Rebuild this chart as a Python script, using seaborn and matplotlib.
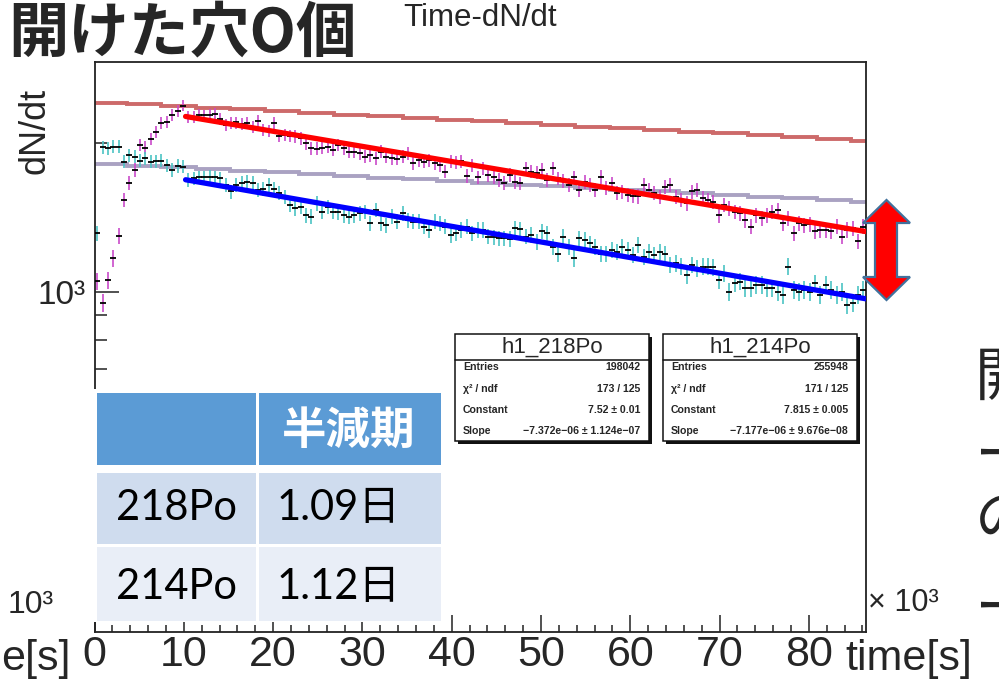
import numpy as np
import pandas as pd
import seaborn as sns
import matplotlib
matplotlib.use("Agg")
import matplotlib.pyplot as plt
from matplotlib import font_manager
from matplotlib.patches import Rectangle, Polygon
from matplotlib.lines import Line2D
from matplotlib.ticker import FixedLocator, NullFormatter

# ---------------- data ----------------
bin_width = 600  # seconds per bin
po218 = [1050, 950, 1057, 1170, 1298, 1534, 1660, 1764, 1981, 1958, 2037, 2105, 2195, 2205, 2280, 2320, 2380,
         2260, 2255, 2279, 2275, 2282, 2289, 2233, 2175, 2193, 2200, 2188, 2195, 2158, 2219, 2125, 2118, 2199,
         2066, 2076, 2066, 2062, 2044, 1997, 1951, 1948, 1955, 1966, 1936, 1981, 1951, 1921, 1918, 1906, 1876,
         1891, 1863, 1921, 1876, 1863, 1860, 1876, 1906, 1820, 1848, 1833, 1848, 1820, 1805, 1750, 1833, 1830,
         1836, 1715, 1805, 1704,
         1778, 1724, 1710, 1684, 1663, 1724, 1671, 1658, 1778, 1750,
         1742, 1764, 1684, 1778, 1697, 1679, 1645, 1705, 1607, 1671,
         1645, 1607, 1710, 1620, 1658, 1583, 1596, 1571, 1563, 1560,
         1645, 1607, 1583, 1558, 1632, 1645, 1558, 1534, 1510, 1596,
         1607, 1546, 1534, 1522, 1430, 1499, 1476, 1452, 1441, 1398,
         1356, 1430, 1409, 1430, 1452, 1464, 1377, 1409, 1315, 1377,
         1366, 1370, 1325, 1335, 1332, 1325, 1356, 1294, 1335, 1346,
         1265, 1356]
po214 = [1315, 1960, 1951, 1966, 1966, 1833, 1891, 1876, 1842, 1863, 1833, 1838, 1842, 1805, 1764, 1797, 1792,
         1684, 1697, 1705, 1705, 1710, 1705, 1697, 1645, 1596, 1645,
         1663, 1671, 1663, 1607, 1612, 1645, 1612, 1583, 1558, 1499,
         1476, 1487, 1430, 1419, 1510, 1452, 1487, 1452, 1450, 1430,
         1419, 1430, 1441, 1452, 1377, 1464, 1377, 1366, 1419, 1387,
         1441, 1398, 1387, 1387, 1356, 1335, 1387, 1377, 1356, 1304,
         1315, 1335, 1356, 1315, 1335,
         1335, 1294, 1290, 1284, 1284, 1280, 1346, 1340, 1294, 1304,
         1264, 1325, 1315, 1235, 1196, 1294, 1235, 1169, 1284, 1274,
         1253, 1235, 1196, 1196, 1216, 1206, 1235, 1216, 1188, 1245,
         1179, 1206, 1188, 1206, 1196, 1134, 1142, 1125, 1082, 1134,
         1117, 1125, 1125, 1122, 1057, 1090, 1001, 1041, 1049, 1017,
         1017, 1033, 1033, 1017, 1017, 1001, 986, 1125, 1009, 1001,
         1009, 1001, 1041, 986, 1033, 1009, 986, 1001, 941, 949,
         986, 1009]

# Rn-222 reference curves (coarse steps)
rn_edges = [0, 3600, 7460, 11330, 15190, 19050, 22920, 26780, 30640, 34500, 38370, 42230,
            46090, 49960, 53820, 57680, 61540, 65410, 69270, 73130, 77000, 80860, 84720, 86400]
rn_upper = [2413, 2394, 2375, 2357, 2338, 2320, 2301, 2283, 2265, 2247, 2229, 2212,
            2194, 2177, 2159, 2142, 2125, 2108, 2091, 2074, 2056, 2039, 2022]
rn_lower = [1814, 1800, 1786, 1772, 1758, 1744, 1730, 1716, 1702, 1689, 1675, 1662,
            1648, 1635, 1622, 1609, 1596, 1584, 1571, 1558, 1546, 1534, 1522]

# exponential fits exp(c + s*t), as drawn
fit218 = (7.796, -7.03e-6)
fit214 = (7.504, -7.27e-6)
fit_range = (10200, 86400)

x_tick_values = [0, 10000, 20000, 30000, 40000, 50000, 60000, 70000, 80000]
x_tick_labels = ["0", "10", "20", "30", "40", "50", "60", "70", "80"]
y_tick_values = [1000]
y_tick_labels = ["10³"]
y_minor_values = [300, 400, 500, 600, 700, 800, 900, 2000]

stats218 = [("Entries", "198042"), ("χ² / ndf", "173 / 125"),
            ("Constant", "7.52 ± 0.01"), ("Slope", "−7.372e−06 ± 1.124e−07")]
stats214 = [("Entries", "255948"), ("χ² / ndf", "171 / 125"),
            ("Constant", "7.815 ± 0.005"), ("Slope", "−7.177e−06 ± 9.676e−08")]
table_header = ["", "半減期"]
table_rows = [["218Po", "1.09日"], ["214Po", "1.12日"]]

# ---------------- style ----------------
sns.set_theme(style="ticks")
plt.rcParams["font.family"] = ["Liberation Sans", "Noto Sans CJK JP", "DejaVu Sans"]


def has_font(name):
    try:
        font_manager.findfont(name, fallback_to_default=False)
        return True
    except Exception:
        return False


NARROW = "Liberation Sans Narrow" if has_font("Liberation Sans Narrow") else "Liberation Sans"
CJK = "Noto Sans CJK JP"
LATO = "Lato" if has_font("Lato") else "Liberation Sans"

W, H = 999, 684
fig = plt.figure(figsize=(W / 100, H / 100), dpi=100)
fig.patch.set_facecolor("white")


def fx(x):
    return x / W


def fy(y):
    return 1 - y / H


ax = fig.add_axes([fx(94.5), fy(632), fx(866) - fx(94.5), fy(62) - fy(632)])
ax.set_facecolor("white")

n = len(po218)
t = (np.arange(n) + 0.5) * bin_width
df = pd.DataFrame({"t": t, "po218": po218, "po214": po214})

# Rn reference steps
ax.stairs(rn_upper, rn_edges, color="#cd6a6a", lw=2.8, zorder=1, baseline=None)
ax.stairs(rn_lower, rn_edges, color="#aaa2c2", lw=2.8, zorder=1, baseline=None)

# data points with error bars
for col, ecol in (("po218", "#c94ac9"), ("po214", "#4cc4c4")):
    vals = df[col].to_numpy(dtype=float)
    ax.errorbar(df["t"], vals, yerr=1.3 * np.sqrt(vals), fmt="none", ecolor=ecol,
                elinewidth=1.2, capsize=0, zorder=2)
    ax.plot(df["t"], vals, ls="none", marker="_", ms=5, mew=1.3, color="black", zorder=3)

# fit curves
tf = np.linspace(fit_range[0], fit_range[1], 300)
fits = pd.DataFrame({"t": tf,
                     "f218": np.exp(fit218[0] + fit218[1] * tf),
                     "f214": np.exp(fit214[0] + fit214[1] * tf)})
sns.lineplot(data=fits, x="t", y="f218", color="#ff0000", lw=3.8, ax=ax, zorder=4)
sns.lineplot(data=fits, x="t", y="f214", color="#0000ff", lw=3.8, ax=ax, zorder=4)

ax.set_yscale("log")
ax.set_xlim(0, 86400)
ax.set_ylim(205.6, 2915)

ax.set_xticks(x_tick_values, labels=x_tick_labels)
ax.xaxis.set_minor_locator(FixedLocator(np.arange(0, 86401, 2000)))
ax.yaxis.set_major_locator(FixedLocator(y_tick_values))
ax.set_yticklabels(y_tick_labels)
ax.yaxis.set_minor_locator(FixedLocator(y_minor_values))
ax.yaxis.set_minor_formatter(NullFormatter())

ax.tick_params(axis="x", which="major", direction="in", length=12.5, width=1.1, color="#222222",
               labelsize=31, pad=2)
ax.tick_params(axis="x", which="minor", direction="in", length=5, width=1.1, color="#222222")
ax.tick_params(axis="y", which="major", direction="in", length=17, width=1.1, color="#222222",
               labelsize=24, pad=6.5)
ax.tick_params(axis="y", which="minor", direction="in", length=8.6, width=1.1, color="#222222")
for lab in ax.get_xticklabels():
    lab.set_fontfamily(NARROW)

for sp in ax.spines.values():
    sp.set_visible(True)
    sp.set_color("#222222")
    sp.set_linewidth(1.3)

ax.set_xlabel("")
ax.set_ylabel("dN/dt", fontsize=26)
ax.yaxis.set_label_coords(-0.054, 0.879)
ax.set_title("Time-dN/dt", fontsize=22.5, pad=26)

# ---------------- overlays ----------------
fig.text(fx(8), fy(34), "開けた穴O個", fontsize=43.5, fontweight="bold", family=[CJK], va="center", ha="left")


def stat_box(x0, y0, x1, y1, title, rows):
    fig.add_artist(Rectangle((fx(x0 + 2.5), fy(y1 + 2.5)), fx(x1) - fx(x0), fy(y0) - fy(y1),
                             transform=fig.transFigure, facecolor="#111111", edgecolor="none", zorder=5))
    fig.add_artist(Rectangle((fx(x0), fy(y1)), fx(x1) - fx(x0), fy(y0) - fy(y1),
                             transform=fig.transFigure, facecolor="white", edgecolor="#111111", lw=1.1, zorder=6))
    fig.add_artist(Line2D([fx(x0), fx(x1)], [fy(360), fy(360)], transform=fig.transFigure,
                          color="#111111", lw=1.1, zorder=7))
    fig.text(fx((x0 + x1) / 2), fy(347.5), title, fontsize=16, ha="center", va="center", zorder=8)
    for (lab, val), yy in zip(rows, [367.5, 388.5, 410, 431]):
        fig.text(fx(x0 + 8), fy(yy), lab, fontsize=7.6, fontweight="bold", ha="left", va="center", zorder=8)
        fig.text(fx(x1 - 9), fy(yy), val, fontsize=7.6, fontweight="bold", ha="right", va="center", zorder=8)


stat_box(455, 334, 649, 441, "h1_218Po", stats218)
stat_box(663, 334, 857, 441, "h1_214Po", stats214)

# table
fig.add_artist(Rectangle((fx(92), fy(621.5)), fx(443) - fx(92), fy(389) - fy(621.5),
                         transform=fig.transFigure, facecolor="white", edgecolor="none", zorder=5))
cols = [(96.7, 255.7), (259, 440.7)]
rows_y = [(393.3, 465, "#5b9bd5"), (473.3, 544.2, "#cfdcee"), (547.3, 620.7, "#e9eef7")]
for (y0, y1, colr) in rows_y:
    for (x0, x1) in cols:
        fig.add_artist(Rectangle((fx(x0), fy(y1)), fx(x1) - fx(x0), fy(y0) - fy(y1),
                                 transform=fig.transFigure, facecolor=colr, edgecolor="none", zorder=6))
fig.text(fx(349), fy(431), table_header[1], fontsize=32, fontweight="bold", color="white",
         family=[CJK], ha="center", va="center", zorder=8)
for (name, hl), yc in zip(table_rows, [508, 587]):
    fig.text(fx(176), fy(yc), name, fontsize=30, family=[LATO, CJK], ha="center", va="center",
             color="black", zorder=8)
    fig.text(fx(277), fy(yc), hl, fontsize=30, family=[LATO, CJK], ha="left", va="center",
             color="black", zorder=8)

# double arrow
arrow_px = [(886.5, 200), (910, 223), (897, 223), (897, 277), (910, 277), (886.5, 300),
            (863, 277), (875, 277), (875, 223), (863, 223)]
fig.add_artist(Polygon([(fx(a), fy(b)) for a, b in arrow_px], closed=True, transform=fig.transFigure,
                       facecolor="#ff0000", edgecolor="#41719c", lw=1.6, zorder=9))

# slide remnants (parts of neighbouring slide objects)
fig.text(fx(1), fy(659), "e[s]", fontsize=31, family=[NARROW], ha="left", va="center")
fig.text(fx(845), fy(659), "time[s]", fontsize=31, family=[NARROW], ha="left", va="center")
fig.text(fx(868), fy(603), "× 10³", fontsize=22, ha="left", va="center")
fig.text(fx(8), fy(605), "10³", fontsize=23, ha="left", va="center")
for ch, yc, st in (("開", 378, "normal"), ("ー", 457, "normal"), ("の", 521, "italic"), ("ー", 610, "normal")):
    fig.text(fx(975), fy(yc), ch, fontsize=42, family=[CJK], style=st, ha="left", va="center")

fig.savefig("out.png", dpi=100, facecolor="white")
